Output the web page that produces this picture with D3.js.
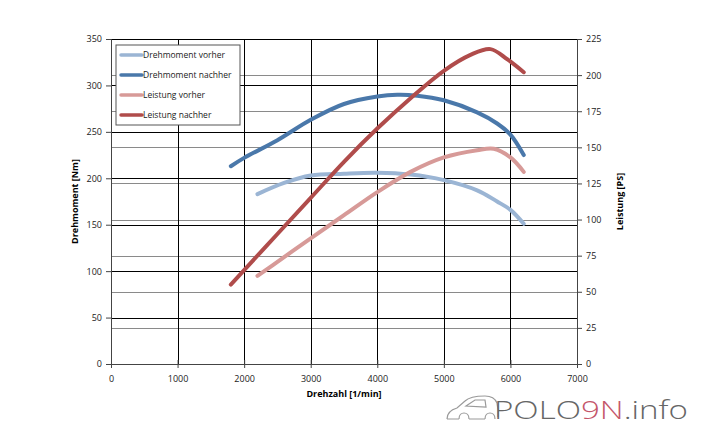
<!DOCTYPE html>
<html>
<head>
<meta charset="utf-8">
<script src="https://cdn.jsdelivr.net/npm/d3@7"></script>
<style>
  body { margin: 0; background: #fff; }
  text { font-family: "Open Sans", "Liberation Sans", sans-serif; }
</style>
</head>
<body>
<div id="chart"></div>
<script>
// values
const rpmTqBefore = [2200, 2600, 3000, 3500, 4000, 4500, 5000, 5500, 5800, 6000, 6200];
const tqBefore    = [183, 195, 203, 205, 206, 204, 198, 187, 175, 166, 151];
const rpmTqAfter  = [1800, 2000, 2500, 3000, 3500, 4000, 4300, 4600, 5000, 5500, 5800, 6000, 6200];
const tqAfter     = [213, 222, 241, 263, 280, 288, 290, 289, 284, 271, 259, 247, 225];
const rpmPsBefore = [2200, 2600, 3000, 3500, 4000, 4500, 5000, 5500, 5750, 6000, 6200];
const psBefore    = [61, 74, 87, 103, 119, 133, 143, 148, 149, 143, 133];
const rpmPsAfter  = [1800, 2000, 2500, 3000, 3500, 4000, 4500, 5000, 5400, 5700, 5950, 6200];
const psAfter     = [55, 65, 90, 115, 140, 163, 184, 203, 214, 218, 211, 202];

const seriesNames  = ["Drehmoment vorher", "Drehmoment nachher", "Leistung vorher", "Leistung nachher"];
const seriesColors = ["#9bb5d4", "#4a78aa", "#d79a98", "#b04c4b"];

const xTicks  = [0, 1000, 2000, 3000, 4000, 5000, 6000, 7000];
const tqTicks = [0, 50, 100, 150, 200, 250, 300, 350];
const psTicks = [0, 25, 50, 75, 100, 125, 150, 175, 200, 225];

const W = 705, H = 434;
const m = {left: 111, right: 128, top: 39, bottom: 70};
const iw = W - m.left - m.right, ih = H - m.top - m.bottom;

const svg = d3.select("#chart").append("svg").attr("width", W).attr("height", H);
const g = svg.append("g").attr("transform", "translate(" + m.left + "," + m.top + ")");

const x = d3.scaleLinear().domain([0, 7000]).range([0, iw]);
const yL = d3.scaleLinear().domain([0, 350]).range([ih, 0]);
const yR = d3.scaleLinear().domain([0, 225]).range([ih, 0]);

// gridlines: gray for right axis, black for left axis and rpm
g.append("g").selectAll("line").data(psTicks).enter().append("line")
  .attr("x1", 0).attr("x2", iw)
  .attr("y1", d => Math.round(yR(d)) + 0.5).attr("y2", d => Math.round(yR(d)) + 0.5)
  .attr("stroke", "#8a8a8a").attr("stroke-width", 1);
g.append("g").selectAll("line").data(tqTicks).enter().append("line")
  .attr("x1", 0).attr("x2", iw)
  .attr("y1", d => Math.round(yL(d)) + 0.5).attr("y2", d => Math.round(yL(d)) + 0.5)
  .attr("stroke", "#000").attr("stroke-width", 1);
g.append("g").selectAll("line").data(xTicks).enter().append("line")
  .attr("y1", 0).attr("y2", ih)
  .attr("x1", d => Math.round(x(d)) + 0.5).attr("x2", d => Math.round(x(d)) + 0.5)
  .attr("stroke", "#000").attr("stroke-width", 1);

// axes
const axL = g.append("g").call(d3.axisLeft(yL).tickValues(tqTicks).tickSize(5).tickPadding(4));
const axR = g.append("g").attr("transform", "translate(" + iw + ",0)")
  .call(d3.axisRight(yR).tickValues(psTicks).tickSize(5).tickPadding(4));
const axB = g.append("g").attr("transform", "translate(0," + ih + ")")
  .call(d3.axisBottom(x).tickValues(xTicks).tickFormat(d3.format("d")).tickSize(4).tickPadding(8));
[axL, axR, axB].forEach(a => {
  a.select(".domain").attr("stroke", "#444");
  a.selectAll(".tick line").attr("stroke", "#444");
  a.selectAll("text").attr("font-size", 9).attr("fill", "#222")
    .style("font-family", "'Open Sans', sans-serif");
});
axB.selectAll(".tick line").attr("y1", -4);

// axis titles
g.append("text").attr("transform", "translate(-33," + ih / 2 + ") rotate(-90)")
  .attr("text-anchor", "middle").attr("font-size", 9).attr("font-weight", "bold")
  .text("Drehmoment [Nm]");
g.append("text").attr("transform", "translate(" + (iw + 46) + "," + ih / 2 + ") rotate(-90)")
  .attr("text-anchor", "middle").attr("font-size", 9).attr("font-weight", "bold")
  .text("Leistung [PS]");
g.append("text").attr("x", iw / 2).attr("y", ih + 33)
  .attr("text-anchor", "middle").attr("font-size", 9).attr("font-weight", "bold")
  .text("Drehzahl [1/min]");

// curves
const series = [
  {r: rpmTqBefore, v: tqBefore, y: yL},
  {r: rpmTqAfter,  v: tqAfter,  y: yL},
  {r: rpmPsBefore, v: psBefore, y: yR},
  {r: rpmPsAfter,  v: psAfter,  y: yR}
];
series.forEach((s, i) => {
  const pts = s.r.map((r, j) => [r, s.v[j]]);
  const line = d3.line().x(d => x(d[0])).y(d => s.y(d[1])).curve(d3.curveCatmullRom.alpha(0.5));
  g.append("path").datum(pts).attr("d", line)
    .attr("fill", "none").attr("stroke", seriesColors[i])
    .attr("stroke-width", 4).attr("stroke-linecap", "round").attr("stroke-linejoin", "round");
});

// legend
const lg = svg.append("g").attr("transform", "translate(116,45)");
lg.append("rect").attr("width", 124).attr("height", 80)
  .attr("fill", "#fff").attr("stroke", "#555").attr("stroke-width", 1);
seriesNames.forEach((n, i) => {
  const yy = 10 + i * 20;
  lg.append("line").attr("x1", 5).attr("x2", 26).attr("y1", yy).attr("y2", yy)
    .attr("stroke", seriesColors[i]).attr("stroke-width", 3.5).attr("stroke-linecap", "round");
  lg.append("text").attr("x", 27).attr("y", yy + 3).attr("font-size", 8.5).attr("fill", "#222").text(n);
});

// logo
const logo = svg.append("g").attr("transform", "translate(445,393)");
logo.append("path")
  .attr("d", "M2,26 C2,20 5,17 12,15 L20,8 C24,4 30,3 40,3 C46,3 50,5 52,10 L53,17 L53,24 " +
             "M14,26 C14,18 24,18 24,26 M24,26 L40,26 M40,26 C40,18 50,18 50,26 M2,26 L14,26 " +
             "M21,13 L30,7 L40,7 L41,14 Z")
  .attr("fill", "none").attr("stroke", "#9a9a9a").attr("stroke-width", 1.2);
logo.append("text").attr("x", 49).attr("y", 26).attr("font-size", 26)
  .attr("textLength", 194).attr("lengthAdjust", "spacingAndGlyphs")
  .attr("fill", "#666").style("font-family", "'Open Sans', sans-serif").style("font-weight", 300)
  .html('POLO<tspan fill="#c4566a">9N</tspan>.info');
</script>
</body>
</html>
